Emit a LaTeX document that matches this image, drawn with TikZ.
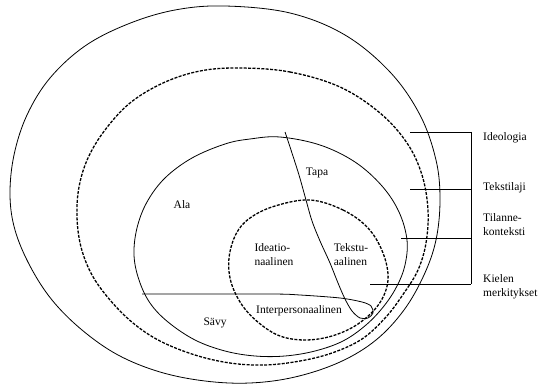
\documentclass[tikz,border=0pt]{standalone}
\usepackage{fontspec}
\setmainfont{Liberation Serif}
\begin{document}
\begin{tikzpicture}[x=1pt,y=-1pt,
  thinline/.style={line width=0.8pt},
  dashline/.style={line width=1.3pt,dash pattern=on 3pt off 1.4pt},
  lbl/.style={font=\fontsize{11.5}{14}\selectfont,inner sep=0pt},
  sidelbl/.style={lbl,anchor=west,align=left}]
\useasboundingbox (0,0) rectangle (538,385);

% outer curve: Ideologia
\draw[thinline] plot[smooth cycle,tension=0.6] coordinates {
  (225,6) (290,13) (345,35) (390,72) (420,115) (436,160) (440,200)
  (436,240) (424,275) (404,310) (376,340) (340,362) (295,377) (250,383)
  (205,381) (160,372) (118,355) (82,330) (52,300) (30,266) (15,230)
  (10,195) (14,155) (27,115) (50,78) (85,46) (128,24) (175,10)};

% second curve (dashed): Tekstilaji
\draw[dashline] plot[smooth cycle,tension=0.6] coordinates {
  (240,68) (290,72) (340,87) (380,113) (407,143) (422,175) (428,210)
  (426,243) (418,270) (404,293) (386,317) (362,339) (332,353) (300,361)
  (265,365) (230,363) (195,355) (160,341) (133,323) (110,300) (92,275)
  (81,247) (77,217) (79,187) (88,158) (105,130) (130,103) (163,83)
  (200,71)};

% third curve: Tilannekonteksti (Ala, Tapa, Savy)
\draw[thinline] plot[smooth cycle,tension=0.6] coordinates {
  (280,137) (320,145) (355,162) (382,186) (399,212) (407,240) (405,265)
  (397,286) (384,306) (366,325) (343,341) (315,351) (285,356) (255,356)
  (225,351) (195,340) (168,322) (150,303) (139,280) (134,255) (137,228)
  (147,202) (165,178) (192,158) (225,144) (250,139)};

% inner curve (dashed): Kielen merkitykset
\draw[dashline] plot[smooth cycle,tension=0.6] coordinates {
  (310,200) (343,210) (368,228) (383,253) (388,280) (379,304) (358,324)
  (332,336) (305,340) (280,336) (259,323) (242,305) (231,282) (229,258)
  (236,234) (250,218) (275,206)};

% dividing line between Tapa / Ala / Savy
\draw[thinline] plot[smooth,tension=0.5] coordinates {
  (285,132) (291,150) (299,175) (306,200) (312,221) (320,241) (330,263)
  (338,283) (345,299) (352,311) (360,318) (368,318) (373,313) (371,306)
  (362,302) (340,298) (300,295) (270,294) (142,294)};

% bracket on the right
\coordinate (b1) at (471,132);
\coordinate (b2) at (471,189);
\coordinate (b3) at (471,238);
\coordinate (b4) at (471,284);
\coordinate (t1) at (410,132);
\coordinate (t2) at (410,189);
\coordinate (t3) at (401,238);
\coordinate (t4) at (370,284);
\draw[thinline] (b1) -- (b4);
\draw[thinline] (t1) -- (b1);
\draw[thinline] (t2) -- (b2);
\draw[thinline] (t3) -- (b3);
\draw[thinline] (t4) -- (b4);

% labels of the levels
\node[sidelbl] (ideo) at (483,138) {Ideologia};
\node[sidelbl] (teksti) at (483,188) {Tekstilaji};
\node[sidelbl] (tilanne) at (483,225) {Tilanne-\\konteksti};
\node[sidelbl] (kieli) at (483,287) {Kielen\\merkitykset};

% labels inside
\node[lbl] (tapa) at (317,173) {Tapa};
\node[lbl] (ala) at (182,205) {Ala};
\node[lbl,align=left] (ideat) at (274,255) {Ideatio-\\naalinen};
\node[lbl,align=left] (tekstu) at (351,255) {Tekstu-\\aalinen};
\node[lbl] (inter) at (299,311) {Interpersonaalinen};
\node[lbl] (savy) at (215,323) {Sävy};
\end{tikzpicture}
\end{document}
